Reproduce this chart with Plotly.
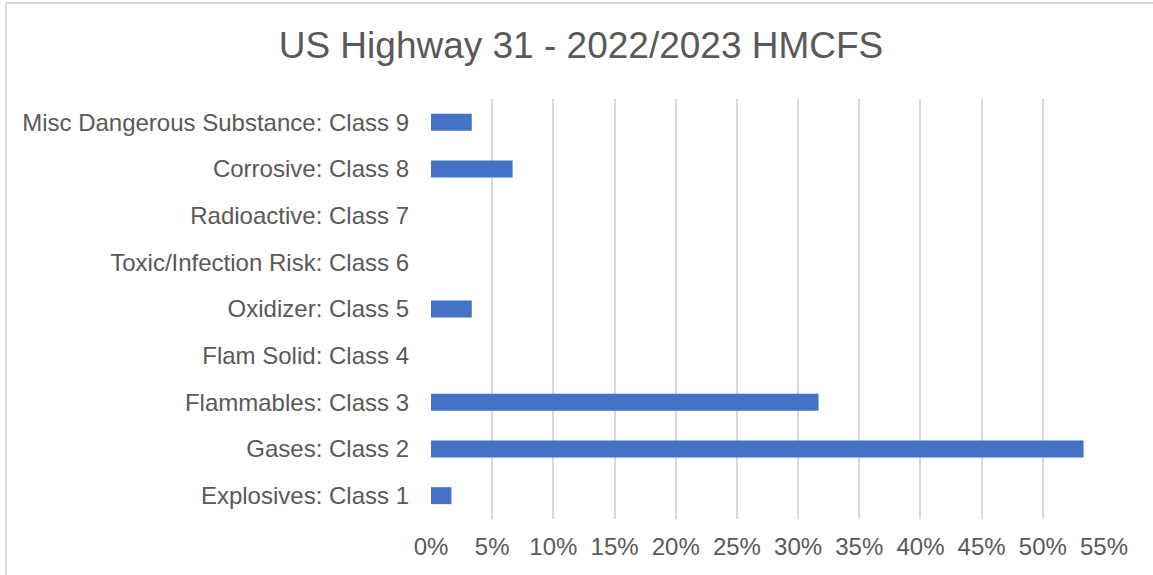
import plotly.graph_objects as go

# hazmat classes, bottom to top as drawn
classes = ['Explosives: Class 1', 'Gases: Class 2', 'Flammables: Class 3', 'Flam Solid: Class 4',
           'Oxidizer: Class 5', 'Toxic/Infection Risk: Class 6', 'Radioactive: Class 7',
           'Corrosive: Class 8', 'Misc Dangerous Substance: Class 9']
share = [0.0167, 0.5333, 0.3167, 0.0, 0.0333, 0.0, 0.0, 0.0667, 0.0333]
x_ticks = [0, 0.05, 0.10, 0.15, 0.20, 0.25, 0.30, 0.35, 0.40, 0.45, 0.50, 0.55]

W, H = 1153, 575
ml, mr, mt, mb = 431, 49, 99, 56
pw, ph = W - ml - mr, H - mt - mb

fig = go.Figure()
fig.add_trace(go.Bar(y=classes, x=share, orientation='h',
                     marker=dict(color='#4472C4', line=dict(width=0))))

fig.update_layout(
    width=W, height=H,
    margin=dict(l=ml, r=mr, t=mt, b=mb),
    paper_bgcolor='white', plot_bgcolor='white',
    font=dict(family='Liberation Sans, Arial, sans-serif', color='#595959', size=24),
    title=dict(text='US Highway 31 - 2022/2023 HMCFS', x=581 / W, xanchor='center',
               y=1 - 45 / H, yanchor='middle', font=dict(size=37, color='#595959')),
    bargap=0.636,
    showlegend=False,
    xaxis=dict(range=[0, 0.55], tickvals=x_ticks, tickformat='.0%',
               showgrid=True, gridcolor='#D9D9D9', gridwidth=2,
               zeroline=False, showline=False, ticks='', ticklabelstandoff=11),
    yaxis=dict(categoryorder='array', categoryarray=classes,
               showgrid=False, zeroline=False, showline=False, ticks='',
               ticklabelstandoff=21),
)

# chart area border: only the left and top edges are in view
bx = (6 - ml) / pw
by = (H - 3 - mb) / ph
fig.add_shape(type='line', xref='paper', yref='paper', x0=bx, x1=bx, y0=-mb / ph, y1=by,
              line=dict(color='#D9D9D9', width=2), layer='below')
fig.add_shape(type='line', xref='paper', yref='paper', x0=bx, x1=(W - ml) / pw, y0=by, y1=by,
              line=dict(color='#D9D9D9', width=2), layer='below')

# drop the default page margin so the figure fills the window exactly
fig.write_html("out.html", config={'displayModeBar': False},
               post_script="document.body.style.margin='0';document.body.style.overflow='hidden';")
